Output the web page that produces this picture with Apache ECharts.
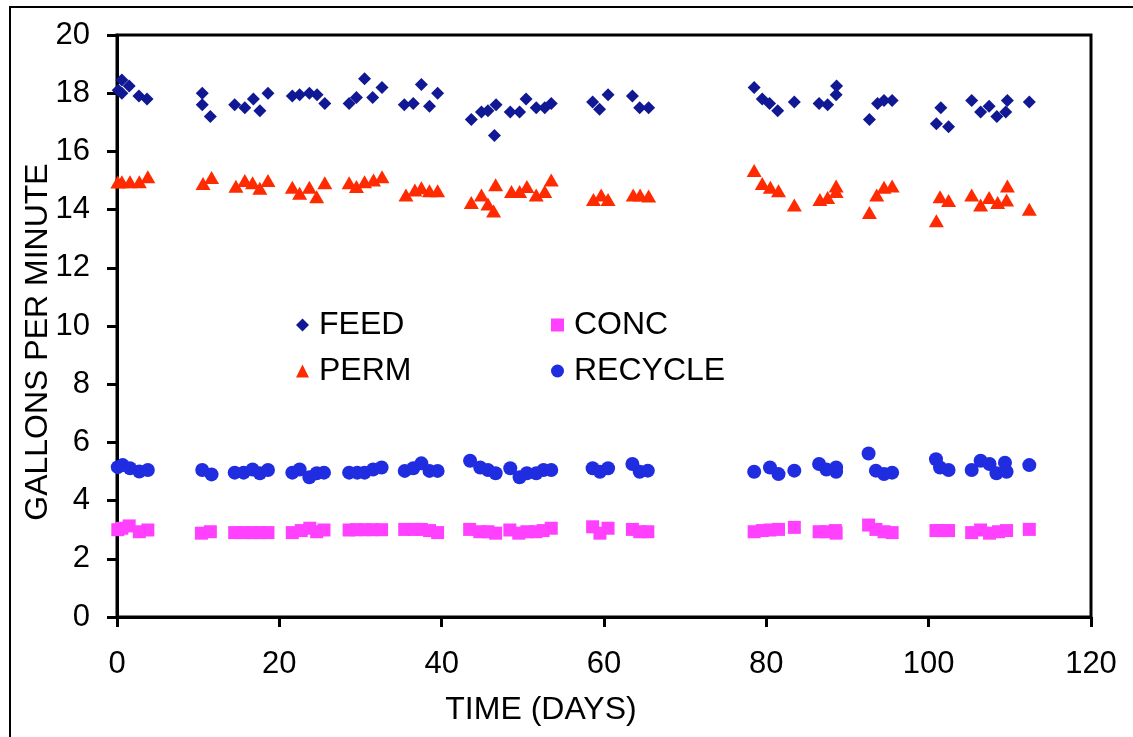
<!DOCTYPE html>
<html>
<head>
<meta charset="utf-8">
<title>Flow rates</title>
<script src="https://cdn.jsdelivr.net/npm/echarts@6/dist/echarts.min.js"></script>
<style>
  html, body { margin: 0; padding: 0; background: #fff; }
  #main { width: 1133px; height: 737px; }
</style>
</head>
<body>
<div id="main"></div>
<script>
// [day, gallons per minute]
var feed = [
  [0.15,18.1],[0.6,18.45],[1.5,18.25],[0.6,18.0],[2.7,17.9],[3.7,17.8],
  [10.5,18.0],[10.5,17.6],[11.5,17.2],
  [14.5,17.6],[15.75,17.5],[16.8,17.8],[17.6,17.4],[18.6,18.0],
  [21.6,17.9],[22.5,17.95],[23.7,18.0],[24.65,17.95],[25.6,17.65],
  [28.6,17.65],[29.5,17.85],[30.5,18.5],[31.5,17.85],[32.65,18.2],
  [35.4,17.6],[36.5,17.65],[37.5,18.3],[38.5,17.55],[39.5,18.0],
  [43.65,17.1],[44.9,17.35],[45.7,17.4],[46.7,17.6],[46.5,16.55],[48.45,17.35],[49.6,17.35],[50.4,17.8],[51.65,17.5],[52.7,17.5],[53.5,17.65],
  [58.6,17.7],[59.45,17.45],[60.5,17.95],[63.5,17.9],[64.4,17.5],[65.5,17.5],
  [78.5,18.2],[79.5,17.8],[80.4,17.65],[81.4,17.4],[83.45,17.7],[86.5,17.65],[87.55,17.6],[88.6,17.95],[88.65,18.25],
  [92.7,17.1],[93.7,17.65],[94.5,17.75],[95.5,17.75],
  [100.95,16.95],[101.5,17.5],[102.45,16.85],[105.3,17.75],[106.4,17.35],[107.45,17.55],[108.4,17.2],[109.5,17.35],[109.7,17.75],[112.4,17.7]
];
var perm = [
  [0.1,14.95],[0.6,14.96],[1.6,14.96],[2.75,14.96],[3.8,15.13],
  [10.6,14.9],[11.65,15.1],
  [14.65,14.8],[15.75,15.0],[16.7,14.92],[17.6,14.73],[18.6,15.0],
  [21.6,14.77],[22.5,14.56],[23.7,14.77],[24.6,14.44],[25.6,14.92],
  [28.6,14.92],[29.5,14.79],[30.5,14.96],[31.6,15.02],[32.65,15.13],
  [35.6,14.5],[36.7,14.67],[37.5,14.75],[38.5,14.65],[39.5,14.65],
  [43.65,14.24],[44.9,14.5],[45.7,14.19],[46.4,13.95],[46.65,14.85],[48.6,14.62],[49.6,14.62],[50.5,14.79],[51.65,14.5],[52.7,14.62],[53.5,15.02],
  [58.7,14.35],[59.65,14.5],[60.5,14.35],[63.6,14.5],[64.45,14.5],[65.5,14.47],
  [78.5,15.34],[79.5,14.9],[80.5,14.77],[81.5,14.65],[83.45,14.16],[86.6,14.35],[87.55,14.42],[88.6,14.62],[88.6,14.81],
  [92.7,13.9],[93.6,14.5],[94.5,14.77],[95.5,14.81],
  [100.95,13.62],[101.4,14.44],[102.45,14.31],[105.3,14.5],[106.4,14.16],[107.45,14.42],[108.5,14.24],[109.6,14.33],[109.7,14.81],[112.4,14.01]
];
var recycle = [
  [0.1,5.15],[0.7,5.22],[1.6,5.11],[2.75,5.0],[3.8,5.05],
  [10.5,5.05],[11.65,4.9],
  [14.5,4.96],[15.6,4.96],[16.7,5.07],[17.6,4.94],[18.6,5.05],
  [21.6,4.96],[22.5,5.07],[23.7,4.8],[24.6,4.94],[25.5,4.96],
  [28.6,4.96],[29.6,4.96],[30.5,4.96],[31.55,5.07],[32.6,5.14],
  [35.45,5.02],[36.5,5.11],[37.5,5.28],[38.5,5.02],[39.5,5.02],
  [43.5,5.37],[44.75,5.14],[45.7,5.05],[46.65,4.94],[48.45,5.11],[49.6,4.8],[50.5,4.94],[51.65,4.94],[52.55,5.05],[53.5,5.05],
  [58.6,5.11],[59.5,4.99],[60.5,5.11],[63.5,5.26],[64.4,4.99],[65.4,5.03],
  [78.5,4.99],[80.45,5.14],[81.5,4.91],[83.45,5.03],[86.5,5.26],[87.4,5.07],[88.6,5.14],[88.6,4.99],
  [92.6,5.62],[93.5,5.03],[94.5,4.91],[95.5,4.96],
  [100.9,5.42],[101.4,5.14],[102.45,5.05],[105.3,5.05],[106.4,5.37],[107.5,5.26],[108.35,4.94],[109.4,5.3],[109.6,4.99],[112.4,5.22]
];
var conc = [
  [0.1,3.0],[0.6,3.05],[1.5,3.13],[2.75,2.93],[3.8,2.99],
  [10.4,2.88],[11.5,2.93],
  [14.5,2.9],[15.6,2.9],[16.7,2.9],[17.6,2.9],[18.6,2.9],
  [21.6,2.9],[22.7,2.97],[23.75,3.05],[24.6,2.93],[25.5,2.99],
  [28.6,2.99],[29.5,3.0],[30.5,3.0],[31.5,3.0],[32.6,3.0],
  [35.45,3.01],[36.5,3.01],[37.5,3.01],[38.5,2.97],[39.5,2.9],
  [43.45,3.01],[44.7,2.93],[45.7,2.93],[46.65,2.88],[48.4,2.99],[49.5,2.88],[50.5,2.93],[51.6,2.93],[52.5,2.97],[53.5,3.05],
  [58.6,3.1],[59.5,2.88],[60.5,3.05],[63.5,3.01],[64.4,2.93],[65.4,2.93],
  [78.5,2.93],[79.5,2.97],[80.45,2.99],[81.5,3.01],[83.45,3.08],[86.5,2.93],[87.4,2.93],[88.5,2.97],[88.6,2.88],
  [92.6,3.16],[93.5,3.01],[94.5,2.93],[95.5,2.9],
  [100.9,2.97],[101.6,2.97],[102.45,2.97],[105.3,2.9],[106.4,2.99],[107.5,2.88],[108.6,2.93],[109.6,2.97],[112.4,3.01]
];

var FONT = '"Liberation Sans", Arial, sans-serif';
var chart = echarts.init(document.getElementById('main'));

//图例文字样式
var legendText = { fontSize: 32, fontFamily: FONT, color: '#000', padding: [0, 0, 0, 5] };

chart.setOption({
  animation: false,
  backgroundColor: '#fff',
  grid: {
    left: 117, top: 35, right: 42, bottom: 120,
    show: true, borderColor: '#000', borderWidth: 3
  },
  legend: [
    {
      data: ['FEED', 'PERM'], orient: 'vertical', left: 291, top: 304,
      itemWidth: 13, itemHeight: 13, itemGap: 14, selectedMode: false,
      textStyle: legendText
    },
    {
      data: ['CONC', 'RECYCLE'], orient: 'vertical', left: 546, top: 304,
      itemWidth: 13, itemHeight: 13, itemGap: 14, selectedMode: false,
      textStyle: legendText
    }
  ],
  xAxis: {
    type: 'value', min: 0, max: 120, interval: 20,
    axisLine: { onZero: false, lineStyle: { color: '#000', width: 3 } },
    axisTick: { length: 10, lineStyle: { color: '#000', width: 3 } },
    axisLabel: { fontSize: 31, fontFamily: FONT, color: '#000', margin: 32 },
    splitLine: { show: false }
  },
  yAxis: {
    type: 'value', min: 0, max: 20, interval: 2,
    axisLine: { onZero: false, lineStyle: { color: '#000', width: 3 } },
    axisTick: { length: 10, lineStyle: { color: '#000', width: 3 } },
    axisLabel: { fontSize: 31, fontFamily: FONT, color: '#000', margin: 27 },
    splitLine: { show: false }
  },
  graphic: [
    { type: 'rect', silent: true, shape: { x: 10, y: 7, width: 1200, height: 800 },
      style: { fill: 'none', stroke: '#000', lineWidth: 2 } },
    { type: 'text', silent: true, x: 541, y: 710,
      style: { text: 'TIME (DAYS)', font: '32px ' + FONT, fill: '#000', textAlign: 'center', textVerticalAlign: 'middle' } },
    { type: 'text', silent: true, x: 38, y: 342, rotation: Math.PI / 2,
      style: { text: 'GALLONS PER MINUTE', font: '32px ' + FONT, fill: '#000', textAlign: 'center', textVerticalAlign: 'middle' } }
  ],
  series: [
    { name: 'FEED', type: 'scatter', data: feed, symbol: 'diamond', symbolSize: 13,
      itemStyle: { color: '#101894', opacity: 1 } },
    { name: 'PERM', type: 'scatter', data: perm, symbol: 'triangle', symbolSize: [15, 13],
      itemStyle: { color: '#ff2a00', opacity: 1 } },
    { name: 'CONC', type: 'scatter', data: conc, symbol: 'rect', symbolSize: 13,
      itemStyle: { color: '#ff40ff', opacity: 1 } },
    { name: 'RECYCLE', type: 'scatter', data: recycle, symbol: 'circle', symbolSize: 14,
      itemStyle: { color: '#1f2ce0', opacity: 1 } }
  ]
});
</script>
</body>
</html>
